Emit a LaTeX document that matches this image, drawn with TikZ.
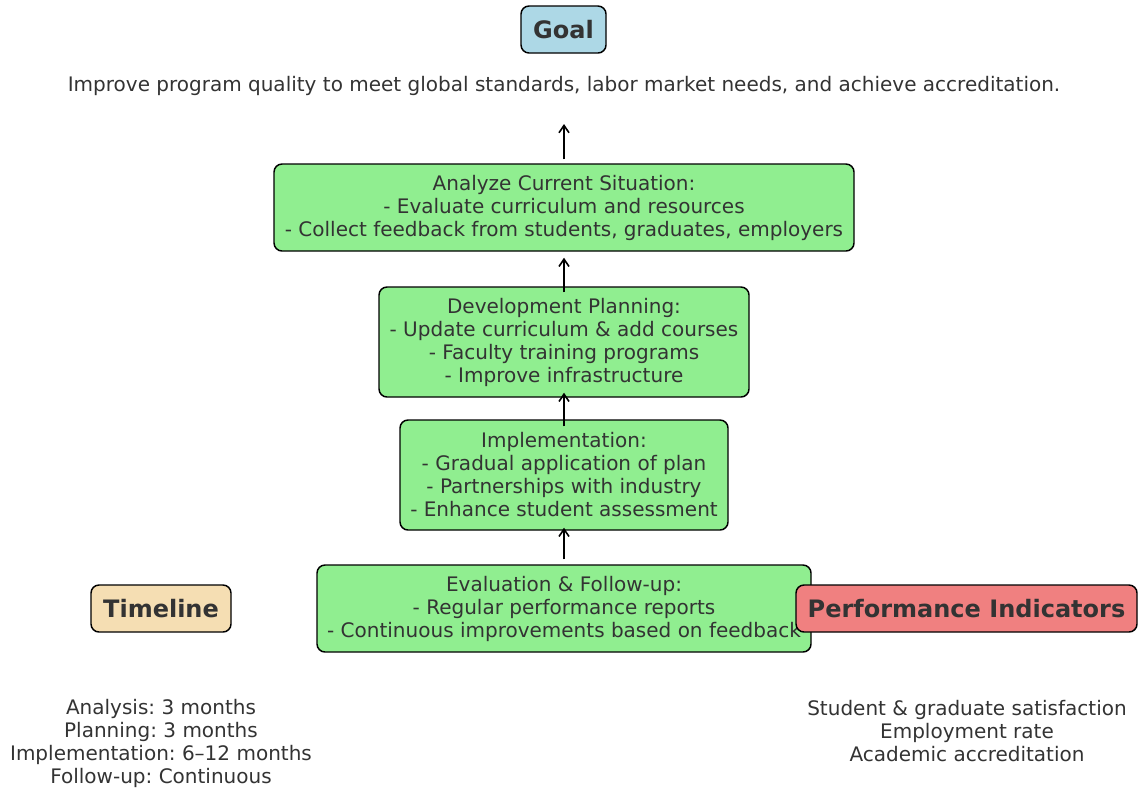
\documentclass[tikz,border=0pt]{standalone}
\usepackage{fontspec}
\setmainfont{DejaVu Sans}
\usetikzlibrary{arrows.meta}
\frenchspacing
\definecolor{txt}{RGB}{51,51,51}
\definecolor{goalblue}{RGB}{173,216,230}
\definecolor{stepgreen}{RGB}{144,238,144}
\definecolor{wheatc}{RGB}{245,222,179}
\definecolor{coralc}{RGB}{240,128,128}
\tikzset{
  box/.style={draw=black, line width=1.1pt, rounded corners=6pt, inner sep=0pt, align=center, text=txt},
  body/.style={font=\fontsize{15}{17.25}\selectfont},
  title/.style={font=\fontsize{18}{21}\selectfont\bfseries},
  plain/.style={inner sep=0pt, align=center, text=txt, font=\fontsize{15}{17.25}\selectfont},
  arr/.style={draw=black, line width=1.2pt, -{Straight Barb[length=5.5pt,width=7.5pt,line width=1.2pt]}}
}
\begin{document}
\frenchspacing
\begin{tikzpicture}[x=0.75pt,y=-0.75pt]
\useasboundingbox (0,0) rectangle (1138,790);
\node[box,title,fill=goalblue,minimum width=63.75pt,minimum height=35.25pt] (goal) at (563.5,29.5) {Goal};
\node[plain] (goaltext) at (564,86) {Improve program quality to meet global standards, labor market needs, and achieve accreditation.};
\coordinate (goaltip) at (564,124);
\node[box,body,fill=stepgreen,minimum width=435pt,minimum height=65.25pt] (an) at (564,207.5) {Analyze Current Situation:\\- Evaluate curriculum and resources\\- Collect feedback from students, graduates, employers};
\node[box,body,fill=stepgreen,minimum width=277.5pt,minimum height=82.5pt] (dev) at (564,342) {Development Planning:\\- Update curriculum \& add courses\\- Faculty training programs\\- Improve infrastructure};
\node[box,body,fill=stepgreen,minimum width=246pt,minimum height=82.5pt] (impl) at (564,475) {Implementation:\\- Gradual application of plan\\- Partnerships with industry\\- Enhance student assessment};
\node[box,body,fill=stepgreen,minimum width=370.5pt,minimum height=65.25pt] (eval) at (564,608.5) {Evaluation \& Follow-up:\\- Regular performance reports\\- Continuous improvements based on feedback};
\node[box,title,fill=wheatc,minimum width=105pt,minimum height=35.25pt] (time) at (161,608.5) {Timeline};
\node[box,title,fill=coralc,minimum width=255.75pt,minimum height=35.25pt] (pi) at (966.5,608.5) {Performance Indicators};
\node[plain] (timetext) at (161,743.5) {Analysis: 3 months\\Planning: 3 months\\Implementation: 6–12 months\\Follow-up: Continuous};
\node[plain] (pitext) at (967,731.5) {Student \& graduate satisfaction\\Employment rate\\Academic accreditation};
\draw[arr] ([yshift=3pt]an.north) -- (goaltip);
\draw[arr] ([yshift=-4.5pt]dev.north) -- ([yshift=-4.5pt]an.south);
\draw[arr] ([yshift=-5.25pt]impl.north) -- ([yshift=3.75pt]dev.south);
\draw[arr] ([yshift=3.75pt]eval.north) -- ([yshift=2.25pt]impl.south);
\end{tikzpicture}
\end{document}
